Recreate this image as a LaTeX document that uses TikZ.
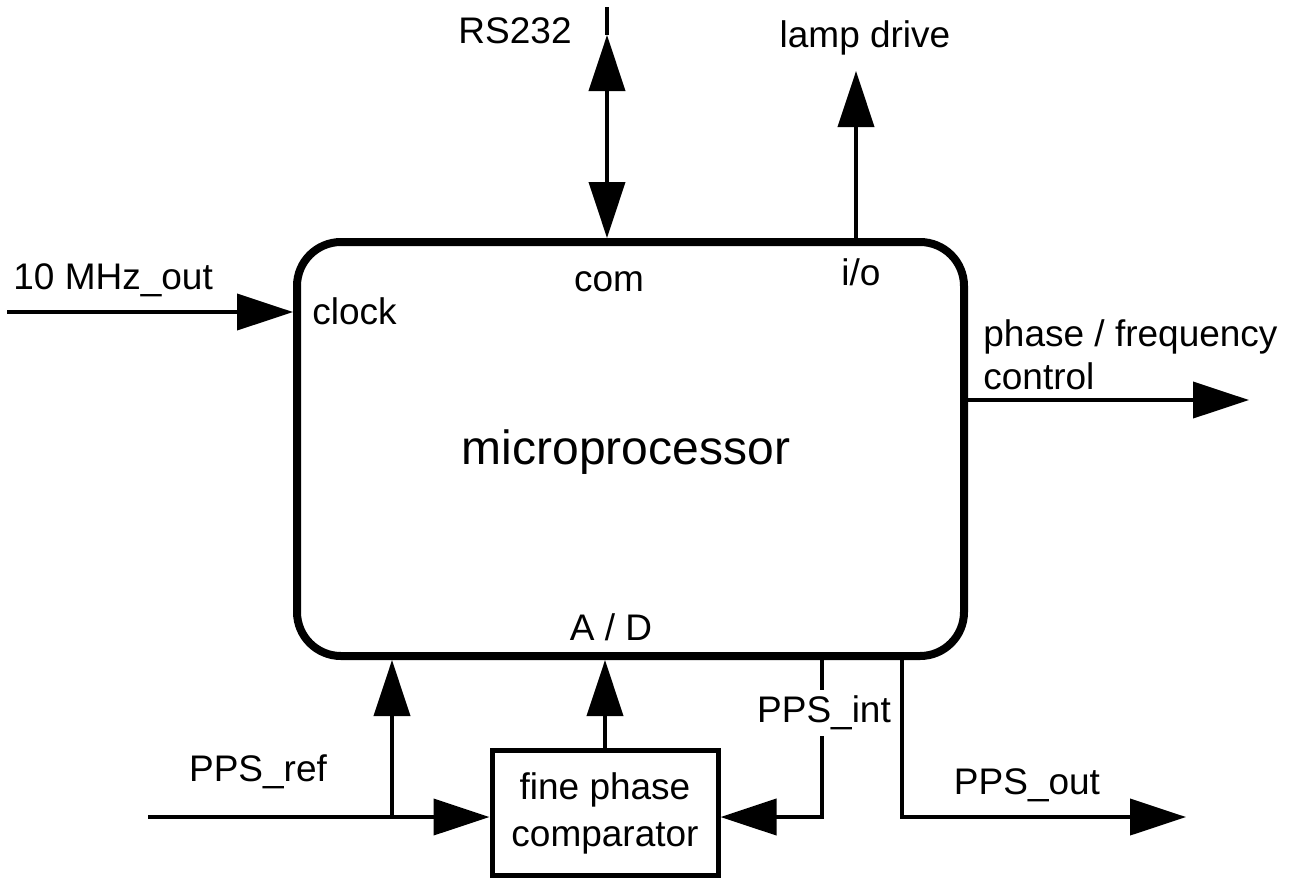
\documentclass[tikz,border=0pt]{standalone}
\usepackage{fontspec}
\setmainfont{Liberation Sans}
\usepackage{tikz}
\usetikzlibrary{arrows.meta, positioning, calc}

\tikzset{
  wire/.style={line width=2pt},
  arr/.style={wire, -{Triangle[length=28pt, width=18pt]}},
  dblarr/.style={wire, {Triangle[length=28pt, width=18pt]}-{Triangle[length=28pt, width=18pt]}},
  lbl/.style={font=\fontsize{18.5}{21.5}\selectfont, inner sep=0pt},
  mpbox/.style={draw, line width=4pt, rounded corners=22pt,
    minimum width=333.5pt, minimum height=207pt},
  cmpbox/.style={draw, line width=2.5pt, minimum width=113pt,
    minimum height=62.5pt, align=center, inner sep=0pt,
    font=\fontsize{18.5}{23.5}\selectfont}
}

\begin{document}
\begin{tikzpicture}[x=0.5pt, y=-0.5pt]
        \useasboundingbox (0,0) rectangle (1306,880);
        % blocks
        \node[mpbox] (mp) at (630.5,449) {};
        \node[cmpbox] (cmp) at (605,813) {fine phase\\comparator};
        \node[font=\fontsize{24}{28}\selectfont, inner sep=0pt] (mptext) at (626,452) {microprocessor};
        % port names
        \node[lbl] (com) at (609,282) {com};
        \node[lbl] (io) at (861,272) {i/o};
        \node[lbl, anchor=west] (clock) at (312,311) {clock};
        \node[lbl] (ad) at (611,627) {A / D};
        % free ends
        \coordinate (rsEnd) at (607,7);
        \coordinate (rsTip) at (607,35);
        \coordinate (lampTip) at (856,71);
        \coordinate (clkIn) at (7,312);
        \coordinate (pfOut) at (1249,400);
        \coordinate (refIn) at (148,817);
        \coordinate (refBr) at (392,817);
        \coordinate (intCorner) at (822,817);
        \coordinate (outCorner) at (902,817);
        \coordinate (ppsOut) at (1186,817);
        % connectors
        \draw[wire] (rsEnd) -- (rsTip);
        \draw[dblarr] (rsTip) -- (rsTip |- mp.north);
        \draw[arr] (lampTip |- mp.north) -- (lampTip);
        \draw[arr] (clkIn) -- (clkIn -| mp.west);
        \draw[arr] (pfOut -| mp.east) -- (pfOut);
        \draw[arr] (refIn) -- (refIn -| cmp.west);
        \draw[arr] (refBr) -- (refBr |- mp.south);
        \draw[arr] (cmp.north) -- (cmp.north |- mp.south);
        \draw[arr] (intCorner |- mp.south) -- (intCorner) -- (intCorner -| cmp.east);
        \draw[arr] (outCorner |- mp.south) -- (outCorner) -- (ppsOut);
        % signal names
        \node[lbl, anchor=east] (rs) at (572,31) {RS232};
        \node[lbl] (lamp) at (865,38) {lamp drive};
        \node[lbl, anchor=west] (mhz) at (13,280) {10 MHz\_out};
        \node[lbl, anchor=north west, align=left] (pf) at (983,319) {phase / frequency\\control};
        \node[lbl] (ref) at (258,772) {PPS\_ref};
        \node[lbl, fill=white, inner ysep=3pt] (int) at (824,713) {PPS\_int};
        \node[lbl] (out) at (1027,785) {PPS\_out};
      \end{tikzpicture}
\end{document}
